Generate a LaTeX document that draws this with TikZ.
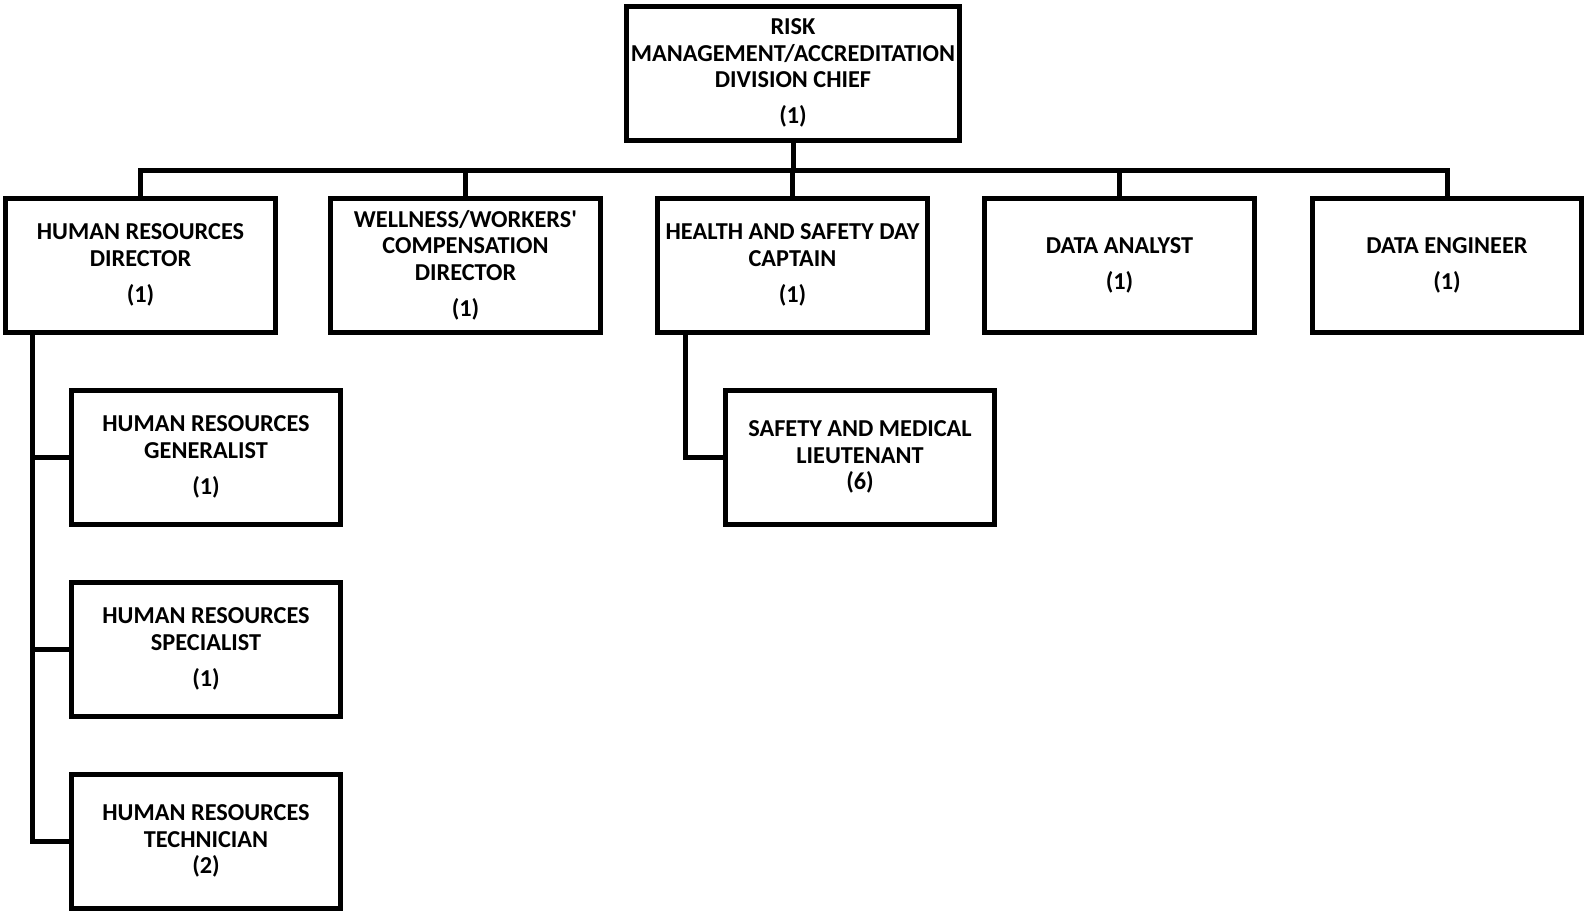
\documentclass[tikz,border=0pt]{standalone}
\usepackage{fontspec}
\setmainfont{Carlito}[Ligatures=TeXOff]
\begin{document}
\begin{tikzpicture}[x=1pt,y=-1pt]
\tikzset{
  box/.style={draw, line width=5pt, minimum width=269.5pt, minimum height=134pt,
    inner sep=0pt, align=center, font=\fontsize{24.3}{26.5}\selectfont\bfseries},
  conn/.style={line width=5pt, line join=miter}
}
\useasboundingbox (0,0) rectangle (1585,911);
\node[box, minimum width=333pt] (top) at (793,73) {RISK\\MANAGEMENT/ACCREDITATION\\DIVISION CHIEF\\[9.5pt](1)};
\node[box] (hrd) at (140.5,265) {HUMAN RESOURCES\\DIRECTOR\\[9.5pt](1)};
\node[box] (wcd) at (465.5,265) {WELLNESS/WORKERS'\\COMPENSATION\\DIRECTOR\\[9.5pt](1)};
\node[box] (hsd) at (792.5,265) {HEALTH AND SAFETY DAY\\CAPTAIN\\[9.5pt](1)};
\node[box] (da) at (1119.5,265) {DATA ANALYST\\[9.5pt](1)};
\node[box] (de) at (1447,265) {DATA ENGINEER\\[9.5pt](1)};
\node[box] (hrg) at (206,457) {HUMAN RESOURCES\\GENERALIST\\[9.5pt](1)};
\node[box] (hrs) at (206,649) {HUMAN RESOURCES\\SPECIALIST\\[9.5pt](1)};
\node[box] (hrt) at (206,841) {HUMAN RESOURCES\\TECHNICIAN\\(2)};
\node[box] (sml) at (860,457) {SAFETY AND MEDICAL\\LIEUTENANT\\(6)};
\coordinate (bus) at (0,170);
\coordinate (hrv) at (32,0);
\coordinate (sv) at (685,0);
\draw[conn] (top.south) -- (top.south |- bus);
\draw[conn] (hrd.north) -- (hrd.north |- bus) -- (de.north |- bus) -- (de.north);
\draw[conn] (wcd.north |- bus) -- (wcd.north);
\draw[conn] (hsd.north |- bus) -- (hsd.north);
\draw[conn] (da.north |- bus) -- (da.north);
\draw[conn] (hrd.south -| hrv) |- (hrt.west);
\draw[conn] (hrg.west -| hrv) -- (hrg.west);
\draw[conn] (hrs.west -| hrv) -- (hrs.west);
\draw[conn] (hsd.south -| sv) |- (sml.west);
\end{tikzpicture}
\end{document}
